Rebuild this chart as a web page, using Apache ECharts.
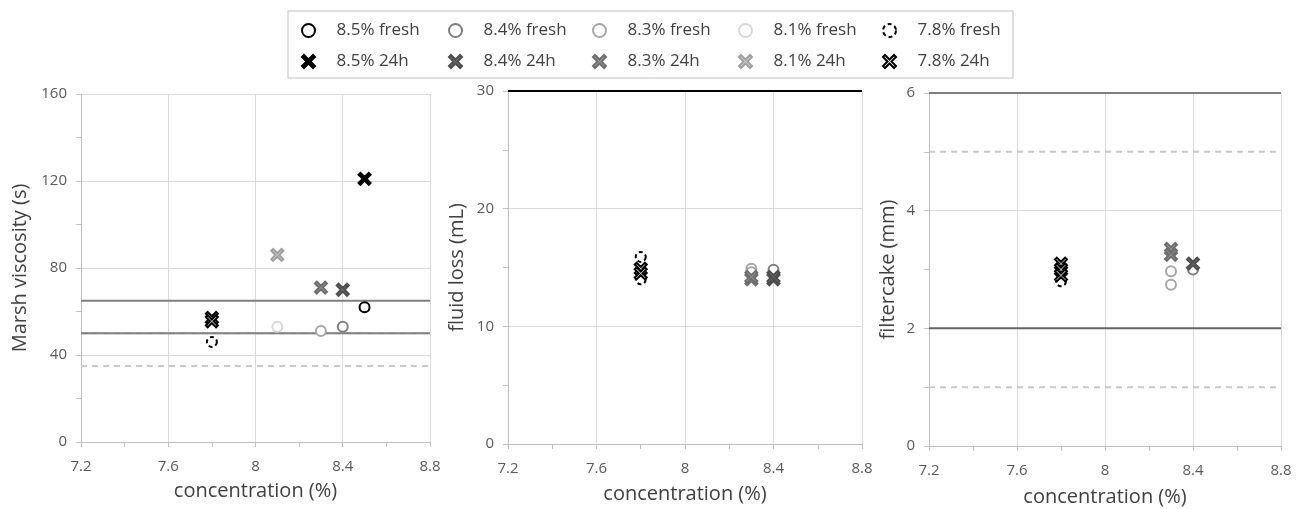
<!DOCTYPE html>
<html><head><meta charset="utf-8">
<script src="https://cdn.jsdelivr.net/npm/echarts@6/dist/echarts.min.js"></script>
<style>html,body{margin:0;padding:0;background:#fff}#c{width:1302px;height:509px}</style>
</head><body><div id="c"></div>
<script>
// ---- data ----
const seriesNames = ['8.5% fresh','8.4% fresh','8.3% fresh','8.1% fresh','7.8% fresh',
                     '8.5% 24h','8.4% 24h','8.3% 24h','8.1% 24h','7.8% 24h'];
const xRange = [7.2, 8.8];
const xStep = 0.4;
// Marsh viscosity (s)
const marshPoints = [
  [[8.5,62]], [[8.4,53]], [[8.3,51]], [[8.1,53]], [[7.8,46]],
  [[8.5,121]], [[8.4,70]], [[8.3,71]], [[8.1,86]], [[7.8,57],[7.8,55.5]]
];
const marshRange = [0, 160, 40];
const marshSolid = [65, 50];
const marshDashed = [50, 35];
// fluid loss (mL)
const fluidPoints = [
  [], [[8.4,14.8]], [[8.3,14.9],[8.3,14.6]], [], [[7.8,15.9],[7.8,14.0]],
  [], [[8.4,14.0],[8.4,14.2]], [[8.3,14.0],[8.3,14.2]], [], [[7.8,14.9],[7.8,14.5]]
];
const fluidRange = [0, 30, 10];
const fluidSolid = [30];
const fluidDashed = [];
// filtercake (mm)
const cakePoints = [
  [], [[8.4,3.0]], [[8.3,2.97],[8.3,2.74]], [], [[7.8,2.8]],
  [], [[8.4,3.1]], [[8.3,3.35],[8.3,3.25]], [], [[7.8,3.1],[7.8,3.0],[7.8,2.9]]
];
const cakeRange = [0, 6, 2];
const cakeSolid = [6, 2];
const cakeDashed = [5, 1];

// ---- styles ----
const FONT = "'Open Sans', 'Noto Sans', sans-serif";
const crossPath = 'path://M1.5,0 L5,3.5 L8.5,0 L10,1.5 L6.5,5 L10,8.5 L8.5,10 L5,6.5 L1.5,10 L0,8.5 L3.5,5 L0,1.5 Z';
const markerStyles = [
  {symbol:'circle', size:10, fill:'#ffffff', border:'#000000', type:'solid'},
  {symbol:'circle', size:10, fill:'#ffffff', border:'#7f7f7f', type:'solid'},
  {symbol:'circle', size:10, fill:'#ffffff', border:'#a6a6a6', type:'solid'},
  {symbol:'circle', size:10, fill:'#ffffff', border:'#d9d9d9', type:'solid'},
  {symbol:'circle', size:10, fill:'#ffffff', border:'#000000', type:[4,3]},
  {symbol:crossPath, size:12, fill:'#000000', border:'#000000', type:'solid'},
  {symbol:crossPath, size:12, fill:'#707070', border:'#4d4d4d', type:'solid'},
  {symbol:crossPath, size:12, fill:'#a0a0a0', border:'#6e6e6e', type:'solid'},
  {symbol:crossPath, size:12, fill:'#d2d2d2', border:'#a0a0a0', type:'solid'},
  {symbol:crossPath, size:12, fill:'#ffffff', border:'#000000', type:'solid'}
];

const grids = [
  {left:81, top:94, width:349, height:348, outerBoundsMode:'none', containLabel:false},
  {left:508, top:91, width:354, height:353, outerBoundsMode:'none', containLabel:false},
  {left:929, top:93, width:352, height:353, outerBoundsMode:'none', containLabel:false}
];
const yNames = ['Marsh viscosity (s)', 'fluid loss (mL)', 'filtercake (mm)'];
const yRanges = [marshRange, fluidRange, cakeRange];
const yGaps = [51, 41, 31];
const pointSets = [marshPoints, fluidPoints, cakePoints];
const solidSets = [marshSolid, fluidSolid, cakeSolid];
const dashedSets = [marshDashed, fluidDashed, cakeDashed];
const solidColors = [['#7f7f7f','#7f7f7f'], ['#000000'], ['#7f7f7f','#666666']];

const tickStyle = {color:'#bfbfbf', width:1};
const xAxes = grids.map((g,i)=>({
  type:'value', gridIndex:i, min:xRange[0], max:xRange[1], interval:xStep,
  name:'concentration (%)', nameLocation:'middle', nameGap:[39,40,41][i],
  nameTextStyle:{fontSize:20, color:'#404040', fontFamily:FONT},
  axisLine:{show:true, lineStyle:{color:'#bfbfbf', width:1}},
  axisTick:{show:true, length:5, lineStyle:tickStyle},
  minorTick:{show:true, splitNumber:2, length:5, lineStyle:tickStyle},
  axisLabel:{fontSize:15, color:'#595959', fontFamily:FONT, margin:17,
    formatter:v=>String(Math.round(v*10)/10)},
  splitLine:{show:true, lineStyle:{color:'#d9d9d9', width:1}}
}));
const yAxes = grids.map((g,i)=>({
  type:'value', gridIndex:i, min:yRanges[i][0], max:yRanges[i][1], interval:yRanges[i][2],
  name:yNames[i], nameLocation:'middle', nameGap:yGaps[i],
  nameTextStyle:{fontSize:20, color:'#404040', fontFamily:FONT},
  axisLine:{show:true, lineStyle:{color:'#bfbfbf', width:1}},
  axisTick:{show:true, length:5, lineStyle:tickStyle},
  minorTick:{show:true, splitNumber:2, length:5, lineStyle:tickStyle},
  axisLabel:{fontSize:15, color:'#595959', fontFamily:FONT, margin:14},
  splitLine:{show:true, lineStyle:{color:'#d9d9d9', width:1}}
}));

const series = [];
pointSets.forEach((pts, gi)=>{
  dashedSets[gi].forEach(v=>{
    series.push({type:'line', xAxisIndex:gi, yAxisIndex:gi, silent:true, symbol:'none',
      data:[[xRange[0],v],[xRange[1],v]], z:1,
      lineStyle:{color:'#c8c8c8', width:2, type:[6,5]}});
  });
  solidSets[gi].forEach((v,k)=>{
    series.push({type:'line', xAxisIndex:gi, yAxisIndex:gi, silent:true, symbol:'none',
      data:[[xRange[0],v],[xRange[1],v]], z:1,
      lineStyle:{color:solidColors[gi][k], width:2}});
  });
  seriesNames.forEach((name, si)=>{
    const m = markerStyles[si];
    series.push({type:'scatter', name:name, xAxisIndex:gi, yAxisIndex:gi,
      symbol:m.symbol, symbolSize:m.size, data:pts[si], z:3,
      itemStyle:{color:m.fill, borderColor:m.border, borderWidth:2, borderType:m.type, opacity:1}});
  });
});

const legendX = [308, 455, 599, 745, 889];
const legends = legendX.map((cx,k)=>({
  left:cx-12, top:17, orient:'vertical', itemWidth:46, itemHeight:13, itemGap:14,
  selectedMode:false,
  data:[k, k+5].map(si=>({
    name:seriesNames[si],
    itemStyle:{color:markerStyles[si].fill, borderColor:markerStyles[si].border,
      borderWidth:2, borderType:markerStyles[si].type}
  })),
  textStyle:{fontSize:17, lineHeight:16, color:'#404040', fontFamily:FONT}
}));

const chart = echarts.init(document.getElementById('c'), null, {renderer:'canvas'});
chart.setOption({
  animation:false,
  backgroundColor:'#ffffff',
  grid:grids,
  xAxis:xAxes,
  yAxis:yAxes,
  legend:legends,
  graphic:[{type:'rect', shape:{x:288, y:11, width:725, height:67},
    style:{fill:'none', stroke:'#bfbfbf', lineWidth:1}, silent:true, z:-1}],
  series:series
});
</script></body></html>
